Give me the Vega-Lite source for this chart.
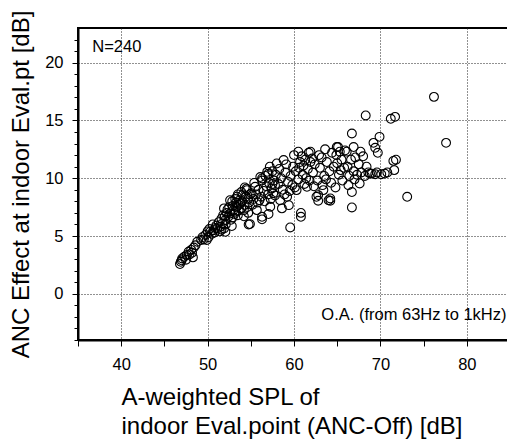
{
  "$schema": "https://vega.github.io/schema/vega-lite/v6.json",
  "autosize": {"type": "none"},
  "padding": {"left": 78, "top": 28, "right": 0, "bottom": 101},
  "width": 432,
  "height": 312,
  "background": "white",
  "config": {
    "font": "Liberation Sans",
    "view": {"stroke": "black", "strokeWidth": 2},
    "axis": {
      "domainColor": "black",
      "domainWidth": 2,
      "tickColor": "black",
      "tickWidth": 1,
      "labelColor": "black",
      "labelFont": "Liberation Sans",
      "labelFontSize": 16.5,
      "labelOverlap": false,
      "labelBound": false,
      "labelFlush": false,
      "titleColor": "black",
      "titleFont": "Liberation Sans",
      "titleFontSize": 24,
      "titleFontWeight": "normal",
      "gridColor": "#222",
      "gridDash": [1, 2],
      "gridWidth": 1
    }
  },
  "layer": [
    {
      "data": {
        "values": [
          {"spl":46.8,"anc":2.57},{"spl":46.9,"anc":2.77},{"spl":47.0,"anc":2.9},{"spl":47.06,"anc":3.06},{"spl":47.3,"anc":3.2},
          {"spl":47.6,"anc":3.35},{"spl":47.8,"anc":3.63},{"spl":47.9,"anc":3.4},{"spl":48.1,"anc":3.8},{"spl":48.3,"anc":3.15},
          {"spl":48.4,"anc":4.0},{"spl":48.2,"anc":3.55},{"spl":48.8,"anc":4.5},{"spl":47.5,"anc":2.95},{"spl":48.6,"anc":4.2},
          {"spl":49.25,"anc":4.65},{"spl":49.55,"anc":4.7},{"spl":49.9,"anc":4.65},{"spl":49.75,"anc":5.08},{"spl":50.3,"anc":5.36},
          {"spl":50.7,"anc":5.5},{"spl":50.1,"anc":4.9},{"spl":50.5,"anc":5.2},{"spl":50.9,"anc":5.7},{"spl":50.2,"anc":5.6},
          {"spl":49.4,"anc":4.9},{"spl":50.8,"anc":5.3},{"spl":50.6,"anc":6.0},{"spl":50.0,"anc":5.4},{"spl":51.0,"anc":5.9},
          {"spl":51.1,"anc":5.65},{"spl":51.5,"anc":5.8},{"spl":51.9,"anc":5.65},{"spl":51.7,"anc":6.09},{"spl":52.06,"anc":6.38},
          {"spl":52.4,"anc":6.66},{"spl":52.6,"anc":6.95},{"spl":53.0,"anc":7.24},{"spl":52.06,"anc":5.36},{"spl":52.8,"anc":5.86},
          {"spl":51.3,"anc":6.2},{"spl":51.6,"anc":6.5},{"spl":51.9,"anc":7.39},{"spl":52.2,"anc":7.0},{"spl":52.5,"anc":7.5},
          {"spl":52.6,"anc":8.1},{"spl":52.7,"anc":6.4},{"spl":52.9,"anc":7.6},{"spl":51.4,"anc":5.4},{"spl":51.8,"anc":6.8},
          {"spl":52.1,"anc":6.0},{"spl":52.9,"anc":6.6},{"spl":52.0,"anc":6.7},{"spl":52.3,"anc":7.3},{"spl":51.6,"anc":5.55},
          {"spl":52.85,"anc":8.0},
          {"spl":53.4,"anc":7.53},{"spl":53.8,"anc":7.82},{"spl":53.4,"anc":8.4},{"spl":53.2,"anc":7.1},{"spl":53.6,"anc":7.2},
          {"spl":53.1,"anc":6.9},{"spl":53.5,"anc":6.8},{"spl":53.9,"anc":7.4},{"spl":54.2,"anc":7.24},{"spl":54.55,"anc":8.97},
          {"spl":54.0,"anc":8.0},{"spl":54.3,"anc":7.7},{"spl":54.7,"anc":8.2},{"spl":54.9,"anc":6.03},{"spl":54.75,"anc":6.0},
          {"spl":53.3,"anc":7.9},{"spl":53.7,"anc":8.1},{"spl":54.1,"anc":8.6},{"spl":54.4,"anc":8.4},{"spl":54.6,"anc":7.5},
          {"spl":54.8,"anc":7.9},{"spl":53.6,"anc":7.7},{"spl":54.2,"anc":6.7},{"spl":54.5,"anc":9.1},{"spl":53.9,"anc":8.8},
          {"spl":54.9,"anc":8.6},{"spl":53.2,"anc":8.2},{"spl":53.5,"anc":8.6},{"spl":54.3,"anc":9.2},{"spl":54.7,"anc":7.0},
          {"spl":55.1,"anc":8.7},{"spl":55.5,"anc":9.26},{"spl":56.3,"anc":9.8},{"spl":56.9,"anc":10.55},{"spl":57.05,"anc":10.4},
          {"spl":56.3,"anc":9.98},{"spl":55.7,"anc":7.24},{"spl":57.25,"anc":7.53},{"spl":56.3,"anc":6.44},{"spl":56.3,"anc":6.66},
          {"spl":57.05,"anc":6.9},{"spl":55.3,"anc":8.2},{"spl":55.6,"anc":8.6},{"spl":55.9,"anc":9.0},{"spl":56.2,"anc":8.4},
          {"spl":56.5,"anc":8.9},{"spl":56.8,"anc":9.3},{"spl":57.1,"anc":9.6},{"spl":57.4,"anc":9.1},{"spl":57.7,"anc":9.8},
          {"spl":57.9,"anc":10.3},{"spl":55.2,"anc":7.7},{"spl":55.8,"anc":7.9},{"spl":56.0,"anc":8.1},{"spl":56.6,"anc":8.0},
          {"spl":57.0,"anc":8.6},{"spl":57.3,"anc":8.2},{"spl":57.6,"anc":8.7},{"spl":57.8,"anc":9.4},{"spl":55.4,"anc":9.6},
          {"spl":56.1,"anc":10.1},{"spl":56.7,"anc":10.2},{"spl":57.5,"anc":10.6},{"spl":57.2,"anc":11.0},{"spl":57.8,"anc":8.5},
          {"spl":57.5,"anc":9.5},
          {"spl":58.0,"anc":11.28},{"spl":58.8,"anc":11.57},{"spl":58.4,"anc":8.1},{"spl":59.2,"anc":8.39},{"spl":60.3,"anc":8.97},
          {"spl":61.5,"anc":9.26},{"spl":59.56,"anc":5.74},{"spl":60.8,"anc":7.0},{"spl":60.8,"anc":6.66},{"spl":58.6,"anc":7.39},
          {"spl":59.4,"anc":7.67},{"spl":60.5,"anc":12.3},{"spl":61.7,"anc":12.2},{"spl":61.9,"anc":12.3},{"spl":58.2,"anc":9.5},
          {"spl":58.5,"anc":10.0},{"spl":58.7,"anc":9.0},{"spl":59.0,"anc":10.5},{"spl":59.3,"anc":9.7},{"spl":59.6,"anc":10.2},
          {"spl":59.9,"anc":11.0},{"spl":60.2,"anc":10.6},{"spl":60.5,"anc":9.9},{"spl":60.7,"anc":11.4},{"spl":61.0,"anc":10.3},
          {"spl":61.3,"anc":11.6},{"spl":61.6,"anc":10.8},{"spl":61.8,"anc":9.8},{"spl":59.1,"anc":11.2},{"spl":59.8,"anc":9.4},
          {"spl":60.0,"anc":12.0},{"spl":60.9,"anc":11.9},{"spl":61.2,"anc":9.5},{"spl":61.4,"anc":10.0},{"spl":58.3,"anc":10.8},
          {"spl":58.9,"anc":8.6},{"spl":59.5,"anc":8.9},{"spl":60.1,"anc":9.2},{"spl":60.6,"anc":10.9},{"spl":61.1,"anc":11.1},
          {"spl":61.9,"anc":11.4},
          {"spl":62.6,"anc":8.39},{"spl":64.0,"anc":8.1},{"spl":63.4,"anc":8.97},{"spl":62.8,"anc":8.54},{"spl":64.2,"anc":8.25},
          {"spl":62.8,"anc":8.05},{"spl":64.2,"anc":8.05},{"spl":63.6,"anc":12.5},{"spl":65.1,"anc":12.7},{"spl":64.95,"anc":12.7},
          {"spl":62.2,"anc":10.5},{"spl":62.4,"anc":11.2},{"spl":62.7,"anc":9.8},{"spl":63.0,"anc":10.9},{"spl":63.2,"anc":11.8},
          {"spl":63.5,"anc":10.2},{"spl":63.8,"anc":11.4},{"spl":64.1,"anc":10.6},{"spl":64.3,"anc":9.6},{"spl":64.6,"anc":11.0},
          {"spl":64.9,"anc":12.0},{"spl":65.2,"anc":10.3},{"spl":65.5,"anc":11.6},{"spl":65.8,"anc":10.9},{"spl":62.3,"anc":9.3},
          {"spl":62.9,"anc":12.0},{"spl":63.3,"anc":9.4},{"spl":63.7,"anc":9.9},{"spl":64.4,"anc":12.2},{"spl":64.8,"anc":9.2},
          {"spl":65.0,"anc":11.3},{"spl":65.3,"anc":12.3},{"spl":65.6,"anc":9.8},{"spl":65.9,"anc":12.4},{"spl":65.4,"anc":10.7},
          {"spl":62.1,"anc":11.7},
          {"spl":66.1,"anc":12.3},{"spl":66.9,"anc":12.7},{"spl":66.7,"anc":8.8},{"spl":67.6,"anc":9.55},{"spl":68.8,"anc":10.4},
          {"spl":69.4,"anc":10.35},{"spl":66.7,"anc":13.87},{"spl":66.7,"anc":7.47},{"spl":66.2,"anc":11.0},{"spl":66.4,"anc":10.2},
          {"spl":66.6,"anc":11.6},{"spl":66.9,"anc":10.6},{"spl":67.1,"anc":11.8},{"spl":67.3,"anc":10.3},{"spl":67.5,"anc":11.2},
          {"spl":67.8,"anc":10.5},{"spl":68.0,"anc":11.9},{"spl":68.2,"anc":10.2},{"spl":68.4,"anc":11.0},{"spl":68.6,"anc":10.5},
          {"spl":68.3,"anc":15.43},{"spl":69.9,"anc":13.58},{"spl":69.2,"anc":13.06},{"spl":69.4,"anc":12.63},{"spl":69.7,"anc":12.2},
          {"spl":69.0,"anc":10.4},{"spl":67.0,"anc":9.9},{"spl":66.3,"anc":9.4},{"spl":67.7,"anc":12.3},{"spl":69.6,"anc":10.5},
          {"spl":70.5,"anc":10.4},{"spl":70.1,"anc":10.35},{"spl":71.2,"anc":15.14},{"spl":71.7,"anc":15.31},{"spl":71.5,"anc":11.5},
          {"spl":71.8,"anc":11.6},{"spl":71.6,"anc":10.7},{"spl":73.1,"anc":8.39},{"spl":76.2,"anc":17.04},{"spl":77.6,"anc":13.06},
          {"spl":70.8,"anc":10.5}
        ]
      },
      "mark": {"type": "point", "shape": "circle", "filled": false, "stroke": "black", "strokeWidth": 1.1, "size": 78, "opacity": 1},
      "encoding": {
        "x": {
          "field": "spl", "type": "quantitative",
          "scale": {"domain": [35, 85], "nice": false, "zero": false},
          "axis": {
            "values": [35, 40, 45, 50, 55, 60, 65, 70, 75, 80, 85],
            "tickCount": 200,
            "format": "d",
            "labelExpr": "datum.value % 10 == 0 ? datum.label : ''",
            "tickSize": 6,
            "labelPadding": 10,
            "gridOpacity": {"condition": {"test": "datum.value % 10 == 0", "value": 1}, "value": 0},
            "title": ["A-weighted SPL of", "indoor Eval.point (ANC-Off) [dB]"],
            "titleAlign": "left",
            "titleAnchor": "start",
            "titleBaseline": "top",
            "titleX": 43,
            "titleY": 45,
            "titleLineHeight": 29
          }
        },
        "y": {
          "field": "anc", "type": "quantitative",
          "scale": {"domain": [-4, 23], "nice": false, "zero": false},
          "axis": {
            "values": [-4, -3, -2, -1, 0, 1, 2, 3, 4, 5, 6, 7, 8, 9, 10, 11, 12, 13, 14, 15, 16, 17, 18, 19, 20, 21, 22],
            "tickCount": 200,
            "format": "d",
            "labelExpr": "datum.value % 5 == 0 ? datum.label : ''",
            "tickSize": {"condition": {"test": "datum.value % 5 == 0", "value": 6}, "value": 4},
            "labelPadding": 9,
            "gridOpacity": {"condition": {"test": "datum.value % 5 == 0", "value": 1}, "value": 0},
            "title": "ANC Effect at indoor Eval.pt [dB]",
            "titleAlign": "center",
            "titleAngle": -90,
            "titleBaseline": "middle",
            "titleX": -57,
            "titleY": 156
          }
        }
      }
    },
    {
      "data": {"values": [{"x": 36.65, "y": 21.37, "t": "N=240"}]},
      "mark": {"type": "text", "align": "left", "baseline": "middle", "fontSize": 16.5, "font": "Liberation Sans", "color": "black"},
      "encoding": {
        "x": {"field": "x", "type": "quantitative"},
        "y": {"field": "y", "type": "quantitative"},
        "text": {"field": "t"}
      }
    },
    {
      "data": {"values": [{"x": 84.6, "y": -1.84, "t": "O.A. (from 63Hz to 1kHz)"}]},
      "mark": {"type": "text", "align": "right", "baseline": "middle", "fontSize": 16.5, "font": "Liberation Sans", "color": "black"},
      "encoding": {
        "x": {"field": "x", "type": "quantitative"},
        "y": {"field": "y", "type": "quantitative"},
        "text": {"field": "t"}
      }
    }
  ]
}
